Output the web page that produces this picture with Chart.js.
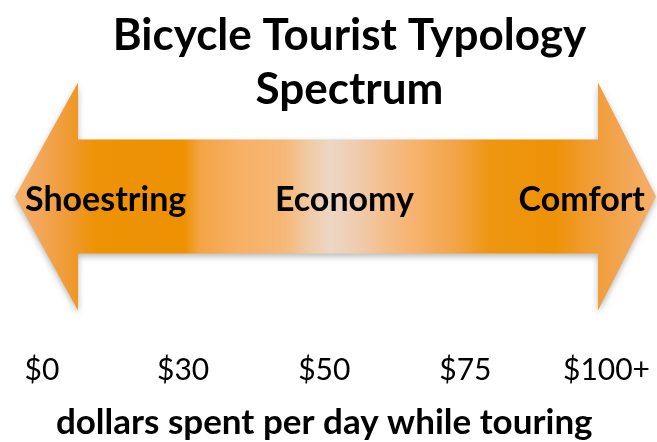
<!DOCTYPE html>
<html>
<head>
<meta charset="utf-8">
<script src="https://cdn.jsdelivr.net/npm/chart.js@4.4.1/dist/chart.umd.min.js"></script>
<style>
  html, body { margin: 0; padding: 0; background: #ffffff; }
  #wrap { width: 657px; height: 442px; }
</style>
</head>
<body>
<div id="wrap"><canvas id="c" width="657" height="442"></canvas></div>
<script>
const titleLines = ['Bicycle Tourist Typology', 'Spectrum'];
const spendLabels = ['$0', '$30', '$50', '$75', '$100+'];
const segmentNames = ['Shoestring', 'Economy', 'Comfort'];
const spectrumRange = [0, 4];
const axisTitle = 'dollars spent per day while touring';

const FONT = 'Lato, "Open Sans", sans-serif';

const arrowPlugin = {
  id: 'arrowPlugin',
  afterDatasetsDraw(chart) {
    const meta = chart.getDatasetMeta(0);
    const bar = meta.data[0];
    if (!bar) return;
    const ctx = chart.ctx;
    const left = Math.min(bar.x, bar.base);
    const cy = bar.y - 2;
    const half = bar.height / 2;
    const leftTip = left - 27, leftHead = left + 36;
    const rightTip = chart.width - 1, rightHead = rightTip - 58;
    const headHalf = half * 2;

    const g = ctx.createLinearGradient(leftTip, 0, rightTip, 0);
    const w = rightTip - leftTip;
    const stop = (px, c) => g.addColorStop(Math.min(1, Math.max(0, (px - leftTip) / w)), c);
    stop(leftTip, '#F4B068');
    stop(leftTip + 25, '#F2A658');
    stop(leftTip + 55, '#F09A30');
    stop(leftTip + 80, '#EE9206');
    stop(leftTip + 170, '#EE9204');
    stop(leftTip + 185, '#F4A444');
    stop(leftTip + 225, '#F7B066');
    stop(leftTip + 270, '#F6B878');
    stop(leftTip + 295, '#F0CBA8');
    stop(leftTip + 315, '#ECD6C4');
    stop(leftTip + 340, '#EFCDB0');
    stop(leftTip + 370, '#F4BE8C');
    stop(leftTip + 405, '#F7B068');
    stop(leftTip + 440, '#F3A448');
    stop(leftTip + 475, '#EE9612');
    stop(leftTip + 540, '#EE9206');
    stop(leftTip + 565, '#F09A28');
    stop(leftTip + 605, '#F2A450');
    stop(rightTip, '#F4B068');

    ctx.save();
    ctx.shadowColor = 'rgba(0,0,0,0.28)';
    ctx.shadowBlur = 6;
    ctx.shadowOffsetY = 3;
    ctx.beginPath();
    ctx.moveTo(leftTip, cy);
    ctx.lineTo(leftHead, cy - headHalf);
    ctx.lineTo(leftHead, cy - half);
    ctx.lineTo(rightHead, cy - half);
    ctx.lineTo(rightHead, cy - headHalf);
    ctx.lineTo(rightTip, cy);
    ctx.lineTo(rightHead, cy + headHalf);
    ctx.lineTo(rightHead, cy + half);
    ctx.lineTo(leftHead, cy + half);
    ctx.lineTo(leftHead, cy + headHalf);
    ctx.closePath();
    ctx.fillStyle = g;
    ctx.fill();
    ctx.restore();

    ctx.save();
    ctx.fillStyle = '#000000';
    ctx.font = 'bold 34px ' + FONT;
    ctx.textBaseline = 'middle';
    const ty = cy + 3;
    ctx.textAlign = 'left';
    ctx.fillText(segmentNames[0], leftTip + 10, ty);
    ctx.textAlign = 'center';
    ctx.fillText(segmentNames[1], (leftTip + rightTip) / 2 + 9, ty);
    ctx.textAlign = 'right';
    ctx.fillText(segmentNames[2], rightTip - 11, ty);
    ctx.restore();
  }
};

const bgPlugin = {
  id: 'bg',
  beforeDraw(chart) {
    const ctx = chart.ctx;
    ctx.save();
    ctx.fillStyle = '#ffffff';
    ctx.fillRect(0, 0, chart.width, chart.height);
    ctx.restore();
  }
};

new Chart(document.getElementById('c'), {
  type: 'bar',
  data: {
    datasets: [{
      data: [{ x: spectrumRange, y: 2 }],
      backgroundColor: 'rgba(0,0,0,0)',
      borderWidth: 0,
      barThickness: 114
    }]
  },
  options: {
    indexAxis: 'y',
    responsive: false,
    animation: false,
    events: [],
    layout: { padding: { left: 42, right: 0, top: 0, bottom: 0 } },
    plugins: {
      legend: { display: false },
      tooltip: { enabled: false },
      title: {
        display: true,
        text: titleLines,
        color: '#000000',
        font: { family: FONT, size: 44, weight: 'bold', lineHeight: 1.23 },
        padding: { top: 9, bottom: 0 }
      }
    },
    scales: {
      x: {
        type: 'linear',
        min: spectrumRange[0],
        max: spectrumRange[1],
        grid: { display: false, drawTicks: false },
        border: { display: false },
        ticks: {
          stepSize: 1,
          color: '#000000',
          padding: 7,
          font: { family: FONT, size: 30, lineHeight: 1.2 },
          maxRotation: 0,
          autoSkip: false,
          callback: (v) => spendLabels[v]
        },
        title: {
          display: true,
          text: axisTitle,
          color: '#000000',
          font: { family: FONT, size: 35, weight: 'bold', lineHeight: 1.0 },
          padding: { top: 10, bottom: 2 }
        }
      },
      y: {
        type: 'linear',
        min: 0,
        max: 3,
        display: false
      }
    }
  },
  plugins: [bgPlugin, arrowPlugin]
});
</script>
</body>
</html>
